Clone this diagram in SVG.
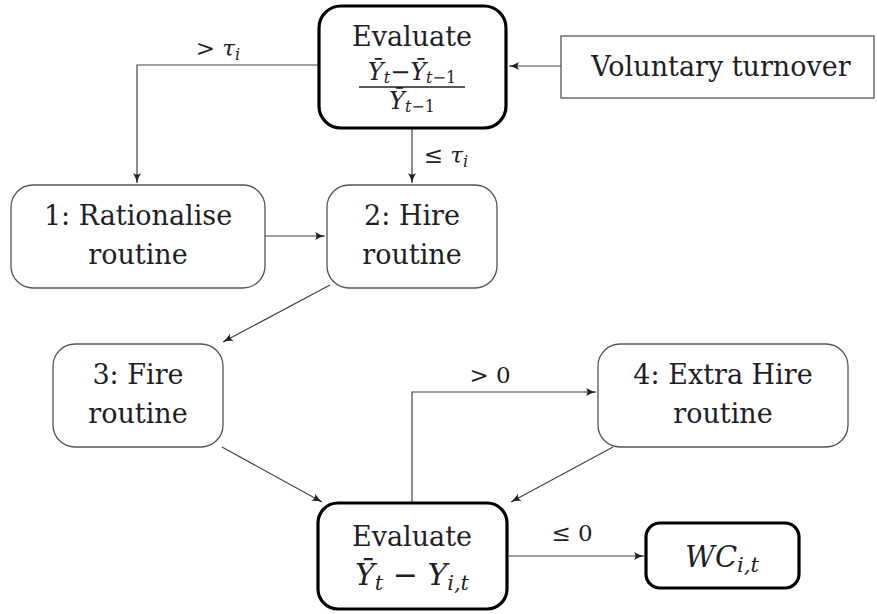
<svg xmlns="http://www.w3.org/2000/svg" width="877" height="614" viewBox="0 0 877 614">
<style>
.t{font-family:"DejaVu Serif","Noto Serif",serif;fill:#1e1e28;text-anchor:middle}
.big{font-size:27px}
.lab{font-size:23px}
.m{font-style:italic}
.node{fill:#fff;stroke:#555;stroke-width:1.3}
.thick{fill:#fff;stroke:#000;stroke-width:3.2}
.c{fill:none;stroke:#444;stroke-width:1.2}
</style>
<defs>
<marker id="ah" markerUnits="userSpaceOnUse" markerWidth="12" markerHeight="10" refX="10" refY="4" orient="auto">
<path d="M0,0 Q5,3 10,4 Q5,5 0,8 Q3,4 0,0 Z" fill="#222"/>
</marker>
</defs>
<g id="connectors">
<path class="c" d="M318,65 H137 V183" marker-end="url(#ah)"/>
<path class="c" d="M561,66 H509" marker-end="url(#ah)"/>
<path class="c" d="M412,129 V183" marker-end="url(#ah)"/>
<path class="c" d="M265,236 H325" marker-end="url(#ah)"/>
<path class="c" d="M330,285 L223,342" marker-end="url(#ah)"/>
<path class="c" d="M222,447 L322,502" marker-end="url(#ah)"/>
<path class="c" d="M613,447 L511,502" marker-end="url(#ah)"/>
<path class="c" d="M412,502 V392 H596" marker-end="url(#ah)"/>
<path class="c" d="M509,556 H644" marker-end="url(#ah)"/>
<text class="t lab" x="218" y="56">&gt; <tspan class="m">τ</tspan><tspan class="m" font-size="16" dy="4">i</tspan></text>
<text class="t lab" x="446" y="163">≤ <tspan class="m">τ</tspan><tspan class="m" font-size="16" dy="4">i</tspan></text>
<text class="t lab" x="490" y="383">&gt; 0</text>
<text class="t lab" x="572" y="541">≤ 0</text>
</g>
<g id="eval1">
<rect class="thick" x="319" y="6" width="187" height="122" rx="22"/>
<text class="t big" x="412" y="46">Evaluate</text>
<text class="t" font-size="24" x="412" y="80"><tspan class="m">Ȳ</tspan><tspan class="m" font-size="16" dy="3">t</tspan><tspan dy="-3">−</tspan><tspan class="m">Ȳ</tspan><tspan class="m" font-size="16" dy="3">t</tspan><tspan font-size="16">−1</tspan></text>
<line x1="359" y1="87" x2="465" y2="87" stroke="#222" stroke-width="1.4"/>
<text class="t" font-size="24" x="412" y="109"><tspan class="m">Ȳ</tspan><tspan class="m" font-size="16" dy="3">t</tspan><tspan font-size="16">−1</tspan></text>
</g>
<g id="voluntary">
<rect class="node" x="561" y="36" width="313" height="62"/>
<text class="t big" x="721" y="76">Voluntary turnover</text>
</g>
<g id="n1">
<rect class="node" x="11" y="185" width="254" height="103" rx="22"/>
<text class="t big" x="138" y="225">1: Rationalise</text>
<text class="t big" x="138" y="264">routine</text>
</g>
<g id="n2">
<rect class="node" x="327" y="185" width="170" height="103" rx="22"/>
<text class="t big" x="412" y="225">2: Hire</text>
<text class="t big" x="412" y="264">routine</text>
</g>
<g id="n3">
<rect class="node" x="53" y="344" width="170" height="103" rx="22"/>
<text class="t big" x="138" y="384">3: Fire</text>
<text class="t big" x="138" y="423">routine</text>
</g>
<g id="n4">
<rect class="node" x="598" y="344" width="250" height="103" rx="22"/>
<text class="t big" x="723" y="384">4: Extra Hire</text>
<text class="t big" x="723" y="423">routine</text>
</g>
<g id="eval2">
<rect class="thick" x="318" y="503" width="189" height="106" rx="20"/>
<text class="t big" x="412" y="546">Evaluate</text>
<text class="t" font-size="30" x="412" y="585"><tspan class="m">Ȳ</tspan><tspan class="m" font-size="21" dy="5">t</tspan><tspan dy="-5"> − </tspan><tspan class="m">Y</tspan><tspan class="m" font-size="21" dy="5">i,t</tspan></text>
</g>
<g id="wc">
<rect class="thick" x="646" y="523" width="153" height="65" rx="14"/>
<text class="t" font-size="29" x="722" y="567"><tspan class="m">WC</tspan><tspan class="m" font-size="21" dy="5">i,t</tspan></text>
</g>
</svg>
